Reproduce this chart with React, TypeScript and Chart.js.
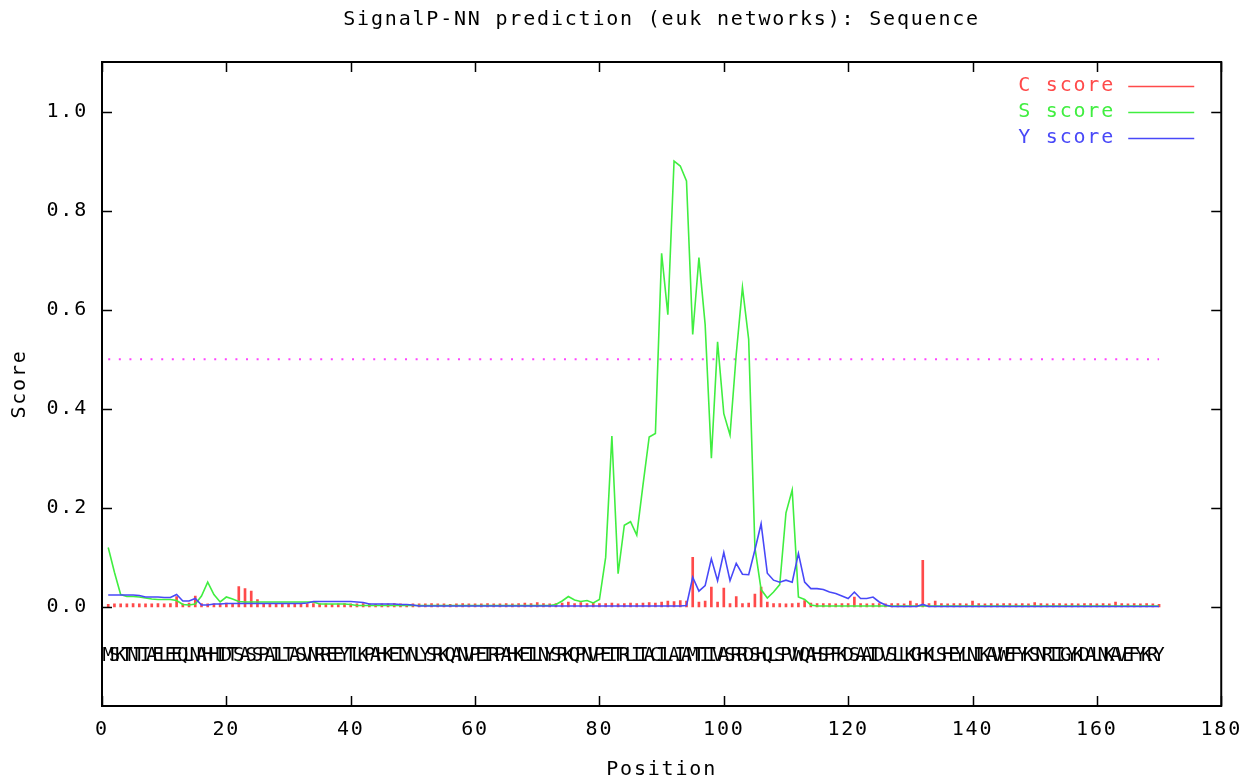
import { useEffect, useRef } from 'react';
import { Chart, registerables } from 'chart.js';

Chart.register(...registerables);

// ---------------- data ----------------
const chartTitle = 'SignalP-NN prediction (euk networks): Sequence';
const xTitle = 'Position';
const yTitle = 'Score';

const sequenceChunks = [
  'MSKTNTIAEL', 'EEQLNAHHID', 'TSASSPAILT', 'ASVNRREEYT', 'LKPAHKEIYN',
  'LYSRKQANVP', 'EIRPAHKEIL', 'NYSRKQPNVP', 'EITRLIIACI', 'LAIAMTIIVA',
  'SRRDSHQLSP', 'VWQAHSPFKD', 'SAAIDVSLLK', 'GHKLSHEYLN', 'IKAVWEFYKS',
  'NRIIGYKDAL', 'NKAVEFYKRY',
];
const sequence = sequenceChunks.join('').split('');
const positions = sequence.map((_, i) => i + 1);

const cScore = [
  0.005, 0.006, 0.006, 0.006, 0.007, 0.006, 0.006, 0.006, 0.007, 0.006,
  0.007, 0.021, 0.006, 0.008, 0.022, 0.007, 0.006, 0.006, 0.007, 0.008,
  0.007, 0.041, 0.037, 0.032, 0.015, 0.007, 0.006, 0.005, 0.007, 0.006,
  0.006, 0.005, 0.006, 0.007, 0.006, 0.006, 0.005, 0.006, 0.007, 0.006,
  0.006, 0.007, 0.006, 0.005, 0.006, 0.006, 0.007, 0.006, 0.005, 0.006,
  0.006, 0.006, 0.007, 0.006, 0.006, 0.005, 0.006, 0.007, 0.006, 0.006,
  0.006, 0.007, 0.006, 0.006, 0.007, 0.006, 0.007, 0.008, 0.007, 0.009,
  0.007, 0.006, 0.007, 0.008, 0.010, 0.007, 0.009, 0.007, 0.008, 0.007,
  0.007, 0.008, 0.006, 0.007, 0.008, 0.007, 0.008, 0.009, 0.008, 0.010,
  0.012, 0.011, 0.013, 0.012, 0.100, 0.010, 0.012, 0.040, 0.010, 0.038,
  0.007, 0.021, 0.007, 0.008, 0.026, 0.040, 0.010, 0.007, 0.007, 0.006,
  0.007, 0.008, 0.013, 0.008, 0.007, 0.007, 0.007, 0.006, 0.007, 0.007,
  0.020, 0.007, 0.006, 0.007, 0.007, 0.006, 0.007, 0.007, 0.006, 0.012,
  0.007, 0.094, 0.007, 0.012, 0.007, 0.006, 0.007, 0.007, 0.006, 0.012,
  0.007, 0.006, 0.007, 0.006, 0.007, 0.007, 0.006, 0.007, 0.006, 0.009,
  0.007, 0.006, 0.007, 0.007, 0.006, 0.007, 0.006, 0.007, 0.007, 0.006,
  0.007, 0.006, 0.010, 0.007, 0.006, 0.007, 0.006, 0.007, 0.006, 0.005,
];

const sScore = [
  0.120, 0.070, 0.025, 0.021, 0.021, 0.020, 0.018, 0.016, 0.015, 0.015,
  0.015, 0.013, 0.005, 0.004, 0.006, 0.022, 0.050, 0.025, 0.010, 0.020,
  0.016, 0.011, 0.010, 0.010, 0.010, 0.010, 0.010, 0.010, 0.010, 0.010,
  0.010, 0.010, 0.010, 0.010, 0.006, 0.006, 0.006, 0.006, 0.006, 0.005,
  0.003, 0.003, 0.003, 0.003, 0.003, 0.003, 0.003, 0.003, 0.003, 0.003,
  0.003, 0.003, 0.003, 0.003, 0.003, 0.003, 0.003, 0.003, 0.003, 0.003,
  0.003, 0.003, 0.003, 0.003, 0.003, 0.003, 0.003, 0.003, 0.003, 0.003,
  0.003, 0.003, 0.005, 0.012, 0.021, 0.014, 0.011, 0.013, 0.008, 0.015,
  0.100, 0.345, 0.067, 0.165, 0.172, 0.145, 0.246, 0.343, 0.350, 0.714,
  0.590, 0.900, 0.890, 0.860, 0.550, 0.705, 0.570, 0.300, 0.535, 0.390,
  0.347, 0.510, 0.645, 0.540, 0.120, 0.035, 0.018, 0.030, 0.045, 0.190,
  0.236, 0.020, 0.015, 0.004, 0.002, 0.002, 0.002, 0.002, 0.002, 0.002,
  0.002, 0.002, 0.002, 0.002, 0.002, 0.002, 0.002, 0.002, 0.002, 0.002,
  0.002, 0.002, 0.002, 0.002, 0.002, 0.002, 0.002, 0.002, 0.002, 0.002,
  0.002, 0.002, 0.002, 0.002, 0.002, 0.002, 0.002, 0.002, 0.002, 0.002,
  0.002, 0.002, 0.002, 0.002, 0.002, 0.002, 0.002, 0.002, 0.002, 0.002,
  0.002, 0.002, 0.002, 0.002, 0.002, 0.002, 0.002, 0.002, 0.002, 0.002,
];

const yScore = [
  0.024, 0.024, 0.024, 0.024, 0.024, 0.023, 0.020, 0.020, 0.020, 0.019,
  0.019, 0.025, 0.012, 0.012, 0.017, 0.004, 0.004, 0.006, 0.006, 0.007,
  0.007, 0.007, 0.007, 0.007, 0.007, 0.007, 0.007, 0.007, 0.007, 0.007,
  0.007, 0.007, 0.008, 0.011, 0.011, 0.011, 0.011, 0.011, 0.011, 0.011,
  0.010, 0.009, 0.006, 0.006, 0.006, 0.006, 0.006, 0.005, 0.005, 0.004,
  0.002, 0.002, 0.002, 0.002, 0.002, 0.002, 0.002, 0.002, 0.002, 0.002,
  0.002, 0.002, 0.002, 0.002, 0.002, 0.002, 0.002, 0.002, 0.002, 0.002,
  0.002, 0.002, 0.002, 0.002, 0.002, 0.002, 0.002, 0.002, 0.002, 0.002,
  0.002, 0.002, 0.002, 0.002, 0.002, 0.002, 0.002, 0.002, 0.002, 0.002,
  0.002, 0.002, 0.002, 0.003, 0.060, 0.032, 0.043, 0.097, 0.053, 0.110,
  0.053, 0.088, 0.066, 0.065, 0.115, 0.168, 0.068, 0.054, 0.050, 0.054,
  0.050, 0.108, 0.050, 0.037, 0.037, 0.035, 0.030, 0.027, 0.022, 0.017,
  0.030, 0.017, 0.017, 0.020, 0.010, 0.004, 0.001, 0.001, 0.001, 0.001,
  0.001, 0.005, 0.001, 0.001, 0.001, 0.001, 0.001, 0.001, 0.001, 0.001,
  0.001, 0.001, 0.001, 0.001, 0.001, 0.001, 0.001, 0.001, 0.001, 0.001,
  0.001, 0.001, 0.001, 0.001, 0.001, 0.001, 0.001, 0.001, 0.001, 0.001,
  0.001, 0.001, 0.001, 0.001, 0.001, 0.001, 0.001, 0.001, 0.001, 0.001,
];

const thresholdValue = 0.5;
const thresholdRange = [1, 170];
const sequenceRow = -0.1;

const xTicks = [0, 20, 40, 60, 80, 100, 120, 140, 160, 180];
const yTicks = [0.0, 0.2, 0.4, 0.6, 0.8, 1.0];
const xRange = [0, 180];
const yRange = [-0.2, 1.1];

const seriesLabels = ['C score', 'S score', 'Y score'];

// ---------------- styles ----------------
const FAMILY = '"DejaVu Sans Mono", "Liberation Mono", monospace';
const FONT_SIZE = 20;
const SEQ_FONT_SIZE = 19;
const LS = 1.8;
const LETTER_SPACING = `${LS}px`;
const RED = '#ff4a4a';
const GREEN = '#40ee40';
const BLUE = '#4848f8';
const MAGENTA = '#ff44ff';

const baseFont = { family: FAMILY, size: FONT_SIZE };

const gnuplotPlugin = {
  id: 'gnuplotLook',
  beforeUpdate(chart: any) {
    chart.ctx.letterSpacing = LETTER_SPACING;
  },
  beforeDraw(chart: any) {
    chart.ctx.letterSpacing = LETTER_SPACING;
  },
  afterDatasetsDraw(chart: any) {
    const { ctx, chartArea, scales } = chart;
    const xs = scales.x;
    const ys = scales.y;
    ctx.save();
    ctx.beginPath();
    ctx.rect(chartArea.left, chartArea.top, chartArea.width, chartArea.height);
    ctx.clip();
    ctx.letterSpacing = '0px';
    ctx.font = `${SEQ_FONT_SIZE}px ${FAMILY}`;
    ctx.fillStyle = '#000';
    ctx.textAlign = 'center';
    ctx.textBaseline = 'middle';
    const yPix = ys.getPixelForValue(sequenceRow);
    sequence.forEach((letter, i) => {
      ctx.fillText(letter, xs.getPixelForValue(positions[i]), yPix);
    });
    ctx.restore();
  },
  afterDraw(chart: any) {
    const { ctx, chartArea, scales } = chart;
    const { left, right, top, bottom } = chartArea;
    const xs = scales.x;
    const ys = scales.y;
    ctx.save();
    ctx.strokeStyle = '#000';
    ctx.lineWidth = 1.5;
    // inward ticks on all four sides
    const TL = 10;
    ctx.beginPath();
    xs.ticks.forEach((t: any) => {
      const px = Math.round(xs.getPixelForValue(t.value)) + 0.5;
      ctx.moveTo(px, bottom);
      ctx.lineTo(px, bottom - TL);
      ctx.moveTo(px, top);
      ctx.lineTo(px, top + TL);
    });
    ys.ticks.forEach((t: any) => {
      const py = Math.round(ys.getPixelForValue(t.value)) + 0.5;
      ctx.moveTo(left, py);
      ctx.lineTo(left + TL, py);
      ctx.moveTo(right, py);
      ctx.lineTo(right - TL, py);
    });
    ctx.stroke();
    // frame
    ctx.lineWidth = 2;
    ctx.strokeRect(left, top, right - left, bottom - top);

    // legend (top right, text then line sample)
    ctx.letterSpacing = LETTER_SPACING;
    ctx.font = `${FONT_SIZE}px ${FAMILY}`;
    ctx.textAlign = 'right';
    ctx.textBaseline = 'middle';
    const legendSets = chart.data.datasets.filter((d: any) => seriesLabels.includes(d.label));
    legendSets.forEach((d: any, i: number) => {
      const y = top + 24 + i * 26;
      ctx.fillStyle = d.legendColor;
      ctx.fillText(d.label, right - 108 + LS, y);
      ctx.strokeStyle = d.legendColor;
      ctx.lineWidth = 1.5;
      ctx.beginPath();
      ctx.moveTo(right - 93, y + 0.5);
      ctx.lineTo(right - 27, y + 0.5);
      ctx.stroke();
    });
    ctx.restore();
  },
};

export default function App() {
  const canvasRef = useRef<HTMLCanvasElement>(null);

  useEffect(() => {
    if (!canvasRef.current) return;
    const chart = new Chart(canvasRef.current, {
      type: 'line',
      data: {
        datasets: [
          {
            type: 'bar',
            label: seriesLabels[0],
            data: positions.map((p, i) => ({ x: p, y: cScore[i] })),
            backgroundColor: RED,
            borderWidth: 0,
            barThickness: 2,
            order: 3,
            legendColor: RED,
          } as any,
          {
            type: 'line',
            label: seriesLabels[1],
            data: positions.map((p, i) => ({ x: p, y: sScore[i] })),
            borderColor: GREEN,
            borderWidth: 1.6,
            pointRadius: 0,
            tension: 0,
            fill: false,
            order: 2,
            legendColor: GREEN,
          } as any,
          {
            type: 'line',
            label: seriesLabels[2],
            data: positions.map((p, i) => ({ x: p, y: yScore[i] })),
            borderColor: BLUE,
            borderWidth: 1.6,
            pointRadius: 0,
            tension: 0,
            fill: false,
            order: 1,
            legendColor: BLUE,
          } as any,
          {
            type: 'line',
            label: 'threshold',
            data: thresholdRange.map((p) => ({ x: p, y: thresholdValue })),
            borderColor: MAGENTA,
            borderWidth: 2,
            borderDash: [2, 8.6],
            pointRadius: 0,
            fill: false,
            order: 4,
          } as any,
        ],
      },
      options: {
        responsive: false,
        animation: false,
        events: [],
        layout: { padding: { left: 0, top: 0, right: 29, bottom: 0 } },
        plugins: {
          legend: { display: false },
          tooltip: { enabled: false },
          title: {
            display: true,
            fullSize: false,
            text: chartTitle,
            color: '#000',
            font: { ...baseFont, weight: 'normal', lineHeight: 1.2 },
            padding: { top: 8, bottom: 30 },
          },
        },
        scales: {
          x: {
            type: 'linear',
            min: xRange[0],
            max: xRange[1],
            offset: false,
            afterBuildTicks: (s: any) => {
              s.ticks = xTicks.map((v) => ({ value: v }));
            },
            afterFit: (s: any) => {
              s.height = 74;
            },
            ticks: {
              color: '#000',
              font: baseFont,
              padding: 12,
              maxRotation: 0,
              autoSkip: false,
              callback: (v: any) => String(v),
            },
            grid: { display: false, drawTicks: false },
            border: { display: false },
            title: {
              display: true,
              text: xTitle,
              color: '#000',
              font: { ...baseFont, lineHeight: 1 },
              padding: { top: 0, bottom: 0 },
            },
          },
          y: {
            type: 'linear',
            min: yRange[0],
            max: yRange[1],
            afterBuildTicks: (s: any) => {
              s.ticks = yTicks.map((v) => ({ value: v }));
            },
            afterFit: (s: any) => {
              s.width = 102;
            },
            ticks: {
              color: '#000',
              font: baseFont,
              padding: 14,
              autoSkip: false,
              callback: (v: any) => Number(v).toFixed(1),
            },
            grid: { display: false, drawTicks: false },
            border: { display: false },
            title: {
              display: true,
              text: yTitle,
              color: '#000',
              font: { ...baseFont, lineHeight: 1 },
              padding: { top: 10, bottom: 0 },
            },
          },
        },
      } as any,
      plugins: [gnuplotPlugin],
    });
    return () => chart.destroy();
  }, []);

  return (
    <div style={{ position: 'absolute', left: 0, top: 0, width: 1254, height: 780, background: '#fff' }}>
      <canvas ref={canvasRef} width={1254} height={780} style={{ display: 'block' }} />
    </div>
  );
}
